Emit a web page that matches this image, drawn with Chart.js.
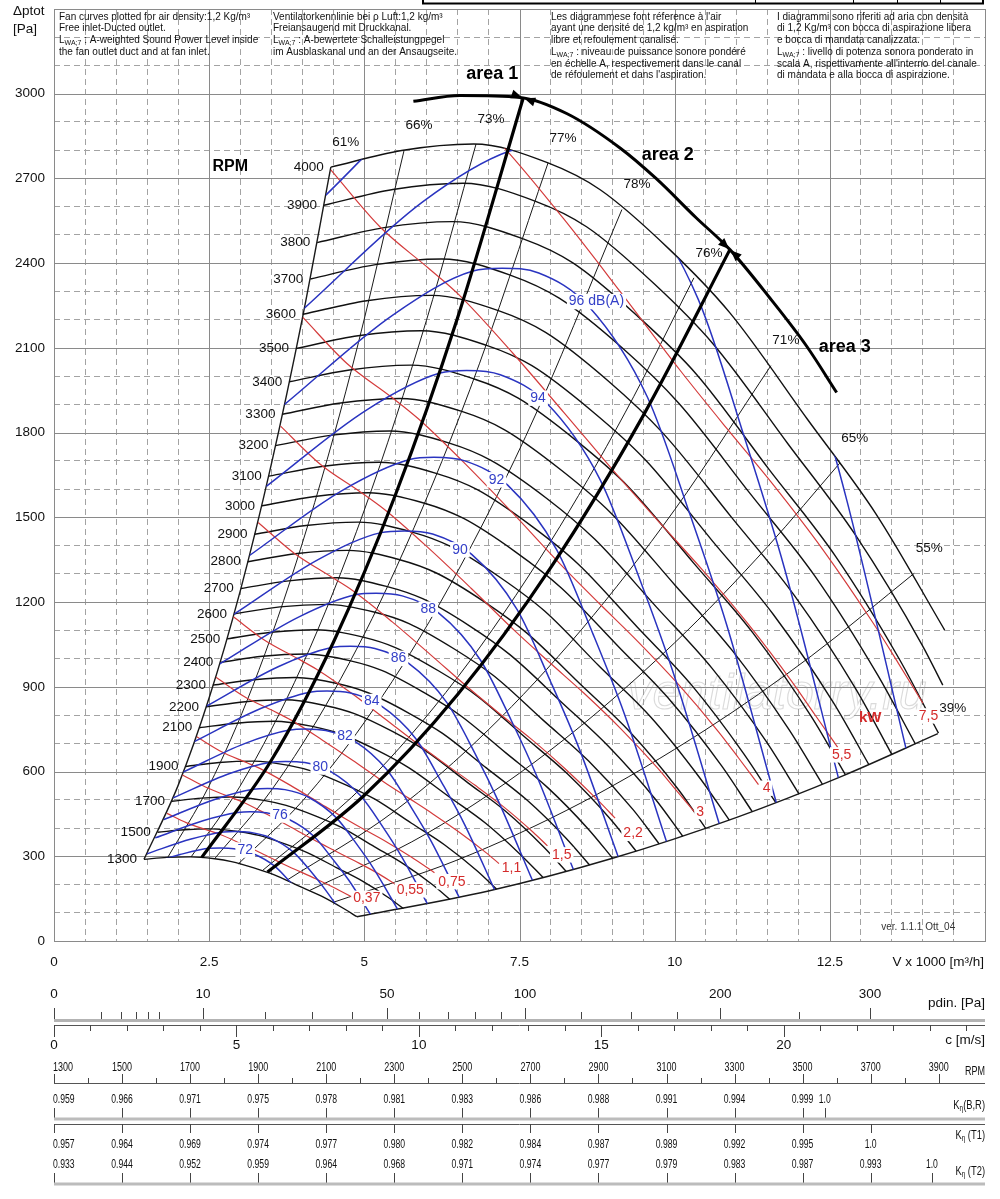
<!DOCTYPE html>
<html>
<head>
<meta charset="utf-8">
<title>Fan curves</title>
<script src="https://cdn.jsdelivr.net/npm/chart.js@4.4.1/dist/chart.umd.min.js"></script>
<style>
html,body{margin:0;padding:0;background:#fff;}
canvas{display:block;}
</style>
</head>
<body>
<canvas id="fan" width="1000" height="1199"></canvas>
<script>
const FONT = '"Liberation Sans", Arial, Helvetica, sans-serif';

// ---------- axis tick labels ----------
const xTickValues = [0, 2.5, 5, 7.5, 10, 12.5];
const xTickLabels = ['0', '2.5', '5', '7.5', '10', '12.5'];
const yTickValues = [0, 300, 600, 900, 1200, 1500, 1800, 2100, 2400, 2700, 3000];
const yTickLabels = ['0', '300', '600', '900', '1200', '1500', '1800', '2100', '2400', '2700', '3000'];

// ---------- fan curves, [V x1000 m3/h, dp tot Pa] ----------
const rpmList = [1300,1500,1700,1900,2100,2200,2300,2400,2500,2600,2700,2800,2900,3000,3100,3200,3300,3400,3500,3600,3700,3800,3900,4000];
const rpm1300 = [[1.45,289],[1.82,296],[2.20,298],[2.59,291],[2.86,281],[3.22,259],[3.54,235],[3.94,195],[4.31,159],[4.66,116],[4.88,86]];
const rpm1500 = [[1.67,385],[2.10,394],[2.54,397],[2.99,387],[3.30,374],[3.72,344],[4.08,313],[4.55,260],[4.97,212],[5.38,155],[5.63,115]];
const rpm1700 = [[1.90,495],[2.38,506],[2.87,510],[3.38,498],[3.74,480],[4.22,442],[4.63,402],[5.16,334],[5.63,273],[6.10,199],[6.38,147]];
const rpm1900 = [[2.12,618],[2.66,632],[3.21,637],[3.78,622],[4.18,600],[4.71,552],[5.17,502],[5.76,417],[6.29,341],[6.82,248],[7.13,184]];
const rpm2100 = [[2.34,755],[2.94,771],[3.55,778],[4.18,759],[4.62,733],[5.21,675],[5.72,613],[6.37,510],[6.96,416],[7.53,303],[7.88,225]];
const rpm2200 = [[2.45,829],[3.08,847],[3.72,854],[4.38,833],[4.84,805],[5.46,741],[5.99,673],[6.67,560],[7.29,457],[7.89,333],[8.25,247]];
const rpm2300 = [[2.56,906],[3.22,925],[3.89,933],[4.58,911],[5.06,879],[5.70,809],[6.26,735],[6.97,612],[7.62,499],[8.25,364],[8.63,269]];
const rpm2400 = [[2.68,986],[3.36,1008],[4.06,1016],[4.78,992],[5.28,958],[5.95,881],[6.53,801],[7.28,666],[7.95,544],[8.61,396],[9.00,293]];
const rpm2500 = [[2.79,1070],[3.50,1093],[4.23,1102],[4.98,1076],[5.50,1039],[6.20,956],[6.81,869],[7.58,723],[8.28,590],[8.97,430],[9.38,318]];
const rpm2600 = [[2.90,1158],[3.64,1183],[4.39,1192],[5.17,1164],[5.72,1124],[6.45,1034],[7.08,940],[7.88,782],[8.61,638],[9.33,465],[9.75,344]];
const rpm2700 = [[3.01,1248],[3.78,1275],[4.56,1286],[5.37,1255],[5.94,1212],[6.70,1115],[7.35,1013],[8.19,843],[8.94,688],[9.69,502],[10.13,371]];
const rpm2800 = [[3.12,1343],[3.92,1372],[4.73,1383],[5.57,1350],[6.16,1303],[6.94,1200],[7.62,1090],[8.49,907],[9.28,740],[10.05,539],[10.50,399]];
const rpm2900 = [[3.23,1440],[4.06,1471],[4.90,1483],[5.77,1448],[6.38,1398],[7.19,1287],[7.90,1169],[8.79,972],[9.61,794],[10.40,579],[10.88,428]];
const rpm3000 = [[3.35,1541],[4.20,1574],[5.07,1587],[5.97,1550],[6.60,1496],[7.44,1377],[8.17,1251],[9.10,1041],[9.94,849],[10.76,619],[11.25,458]];
const rpm3100 = [[3.46,1646],[4.34,1681],[5.24,1695],[6.17,1655],[6.82,1598],[7.69,1470],[8.44,1336],[9.40,1111],[10.27,907],[11.12,661],[11.63,490]];
const rpm3200 = [[3.57,1754],[4.48,1791],[5.41,1806],[6.37,1763],[7.04,1702],[7.94,1567],[8.71,1423],[9.70,1184],[10.60,966],[11.48,705],[12.00,522]];
const rpm3300 = [[3.68,1865],[4.62,1905],[5.58,1921],[6.57,1875],[7.26,1810],[8.18,1666],[8.98,1514],[10.01,1259],[10.93,1028],[11.84,749],[12.38,555]];
const rpm3400 = [[3.79,1980],[4.76,2022],[5.75,2039],[6.77,1990],[7.48,1922],[8.43,1769],[9.26,1607],[10.31,1337],[11.26,1091],[12.20,795],[12.75,589]];
const rpm3500 = [[3.90,2098],[4.90,2143],[5.92,2161],[6.97,2109],[7.70,2037],[8.68,1874],[9.53,1703],[10.61,1416],[11.59,1156],[12.56,843],[13.13,624]];
const rpm3600 = [[4.01,2219],[5.04,2267],[6.08,2286],[7.16,2232],[7.92,2155],[8.93,1983],[9.80,1801],[10.92,1499],[11.93,1223],[12.92,892],[13.50,660]];
const rpm3700 = [[4.13,2344],[5.18,2395],[6.25,2415],[7.36,2357],[8.14,2276],[9.18,2095],[10.07,1903],[11.22,1583],[12.26,1292],[13.27,942],[13.88,697]];
const rpm3800 = [[4.24,2473],[5.32,2526],[6.42,2547],[7.56,2486],[8.36,2401],[9.42,2209],[10.35,2007],[11.52,1670],[12.59,1363],[13.63,994],[14.25,736]];
const rpm3900 = [[4.35,2605],[5.46,2661],[6.59,2683],[7.76,2619],[8.58,2529],[9.67,2327],[10.62,2114],[11.83,1759],[12.92,1435],[13.99,1047],[14.32,906]];
const rpm4000 = [[4.46,2740],[5.60,2799],[6.76,2822],[7.96,2755],[8.80,2660],[9.92,2448],[10.89,2224],[12.13,1850],[13.25,1510],[14.35,1101]];
const rpmSeries = [rpm1300,rpm1500,rpm1700,rpm1900,rpm2100,rpm2200,rpm2300,rpm2400,rpm2500,rpm2600,rpm2700,rpm2800,rpm2900,rpm3000,rpm3100,rpm3200,rpm3300,rpm3400,rpm3500,rpm3600,rpm3700,rpm3800,rpm3900,rpm4000];

// ---------- sound power level iso-lines dB(A) ----------
const db72  = [[1.38,262],[2.03,306],[2.51,328],[2.68,329],[2.90,327],[3.20,310],[3.55,266],[3.81,208],[4.03,154],[4.33,67]];
const db74  = [[1.50,309],[2.21,361],[2.73,386],[2.91,388],[3.15,385],[3.48,366],[3.86,314],[4.14,246],[4.37,182],[4.70,79]];
const db76  = [[1.63,365],[2.40,426],[2.96,455],[3.16,458],[3.42,454],[3.78,431],[4.19,370],[4.49,290],[4.75,215],[5.10,94]];
const db78  = [[1.77,430],[2.60,502],[3.21,537],[3.44,540],[3.72,536],[4.10,509],[4.55,436],[4.88,342],[5.16,253],[5.54,111]];
const db80  = [[1.92,507],[2.83,593],[3.49,633],[3.73,636],[4.04,632],[4.46,600],[4.94,514],[5.30,403],[5.60,299],[6.02,130]];
const db82  = [[2.08,598],[3.07,699],[3.79,747],[4.05,751],[4.38,745],[4.84,708],[5.36,607],[5.75,475],[6.08,352],[6.53,154]];
const db84  = [[2.26,706],[3.34,824],[4.12,881],[4.40,885],[4.76,879],[5.26,834],[5.83,716],[6.25,560],[6.61,415],[7.10,181]];
const db86  = [[2.46,832],[3.62,972],[4.47,1039],[4.78,1044],[5.17,1036],[5.71,984],[6.33,844],[6.79,661],[7.17,490],[7.71,214]];
const db88  = [[2.67,981],[3.94,1147],[4.86,1226],[5.19,1231],[5.61,1222],[6.20,1161],[6.87,995],[7.37,780],[7.79,578],[8.37,252]];
const db90  = [[2.90,1157],[4.27,1352],[5.27,1446],[5.64,1452],[6.10,1441],[6.73,1369],[7.46,1174],[8.00,919],[8.46,682],[9.09,298]];
const db92  = [[3.15,1365],[4.64,1595],[5.73,1705],[6.12,1713],[6.62,1700],[7.31,1614],[8.10,1385],[8.69,1084],[9.19,804],[9.87,351]];
const db94  = [[3.42,1610],[5.04,1881],[6.22,2011],[6.65,2020],[7.19,2005],[7.94,1904],[8.80,1633],[9.44,1279],[9.98,948],[10.72,414]];
const db96  = [[3.71,1899],[5.47,2218],[6.75,2372],[7.22,2382],[7.81,2365],[8.62,2246],[9.56,1926],[10.25,1508],[10.84,1118],[11.64,488]];
const db98  = [[4.03,2240],[5.94,2617],[7.34,2797],[7.84,2810],[8.48,2789],[9.36,2648],[10.38,2272],[11.13,1779],[11.77,1319],[12.64,576]];
const db100 = [[4.38,2641],[6.46,3086],[7.97,3299],[8.52,3314],[9.21,3289],[10.17,3124],[11.27,2679],[12.09,2098],[12.78,1555],[13.73,679]];
const dbSeries = [db72,db74,db76,db78,db80,db82,db84,db86,db88,db90,db92,db94,db96,db98,db100];
const dbLabelText = ['72','76','80','82','84','86','88','90','92','94','96 dB(A)'];
const dbLabelAt = [[3.08,322],[3.64,446],[4.29,616],[4.69,724],[5.12,848],[5.55,1001],[6.03,1175],[6.54,1385],[7.13,1633],[7.80,1922],[8.74,2264]];

// ---------- absorbed power iso-lines kW ----------
const kw037 = [[1.82,452],[2.13,419],[2.45,394],[2.66,379],[3.01,345],[3.35,310],[3.70,272],[3.98,244],[4.25,217],[4.54,186],[4.84,151]];
const kw055 = [[2.07,588],[2.44,545],[2.80,513],[3.03,493],[3.43,449],[3.82,403],[4.22,354],[4.54,318],[4.85,283],[5.19,243],[5.53,197]];
const kw075 = [[2.30,723],[2.70,670],[3.11,631],[3.36,606],[3.81,551],[4.23,495],[4.68,435],[5.03,391],[5.38,348],[5.75,298],[6.13,242]];
const kw110 = [[2.61,934],[3.07,865],[3.53,815],[3.82,782],[4.32,712],[4.81,640],[5.32,562],[5.72,505],[6.11,449],[6.53,385],[6.96,313],[7.17,274]];
const kw150 = [[2.89,1148],[3.40,1064],[3.91,1002],[4.23,962],[4.80,876],[5.33,787],[5.90,691],[6.34,621],[6.78,552],[7.25,474],[7.72,385],[7.95,337]];
const kw220 = [[3.29,1482],[3.87,1373],[4.44,1293],[4.81,1241],[5.45,1130],[6.06,1015],[6.70,892],[7.20,801],[7.70,713],[8.23,611],[8.77,497],[9.04,435]];
const kw300 = [[3.65,1823],[4.29,1688],[4.93,1591],[5.33,1527],[6.04,1390],[6.72,1249],[7.43,1097],[7.99,985],[8.54,877],[9.13,752],[9.73,611],[10.02,535],[10.32,457]];
const kw400 = [[4.01,2208],[4.72,2045],[5.43,1927],[5.87,1849],[6.65,1684],[7.40,1513],[8.18,1329],[8.79,1194],[9.40,1062],[10.05,911],[10.71,740],[11.03,648],[11.35,554]];
const kw550 = [[4.46,2730],[5.25,2529],[6.03,2383],[6.53,2287],[7.39,2082],[8.22,1870],[9.10,1643],[9.78,1476],[10.45,1313],[11.17,1126],[11.90,915],[12.26,801],[12.63,685]];
const kw750 = [[4.95,3357],[5.82,3110],[6.69,2930],[7.24,2812],[8.20,2560],[9.12,2300],[10.09,2020],[10.84,1815],[11.59,1615],[12.39,1385],[13.20,1125],[13.60,985],[14.00,842]];
const kwSeries = [kw037,kw055,kw075,kw110,kw150,kw220,kw300,kw400,kw550,kw750];
const kwLabelText = ['0,37','0,55','0,75','1,1','1,5','2,2','3','4','5,5','7,5'];
const kwLabelAt = [[5.04,151],[5.74,181],[6.41,210],[7.37,258],[8.18,305],[9.33,381],[10.41,458],[11.48,541],[12.69,659],[14.09,797]];

// ---------- efficiency lines (system parabolas) ----------
const eff61 = [[1.45,289],[2.00,551],[2.50,861],[3.00,1239],[3.50,1687],[4.00,2203],[4.46,2740]];
const eff66 = [[1.83,295],[2.50,550],[3.20,901],[4.00,1408],[4.80,2028],[5.64,2799]];
const eff73 = [[2.21,298],[3.00,549],[4.00,976],[5.00,1526],[6.00,2197],[6.80,2822]];
const eff77 = [[2.59,292],[3.50,533],[4.50,881],[5.50,1315],[6.70,1952],[7.96,2755]];
const eff78 = [[2.97,273],[4.00,495],[5.00,774],[6.20,1189],[7.60,1787],[9.15,2590]];
const eff76 = [[3.35,248],[5.00,552],[6.50,933],[8.00,1414],[9.20,1870],[10.31,2348]];
const eff71 = [[3.75,215],[5.50,462],[7.00,748],[8.50,1103],[10.00,1527],[11.55,2037]];
const eff65 = [[4.11,178],[6.00,380],[8.00,676],[10.00,1056],[11.50,1397],[12.66,1692]];
const eff55 = [[4.50,137],[6.50,287],[8.50,490],[10.50,748],[12.20,1009],[13.86,1302]];
const eff39 = [[4.88,86],[7.00,177],[9.00,293],[11.00,438],[12.70,584],[14.24,734]];
const effSeries = [eff61,eff66,eff73,eff77,eff78,eff76,eff71,eff65,eff55,eff39];
const effLabels = ['61%','66%','73%','77%','78%','76%','71%','65%','55%','39%'];

// ---------- working areas ----------
const area1Line = [[2.38,296],[3.50,639],[4.50,1057],[5.50,1579],[6.50,2205],[7.56,2985]];
const area2Line = [[3.44,244],[5.00,516],[6.50,872],[8.00,1321],[9.50,1863],[10.89,2448]];
const areaArc = [[5.79,2973],[6.54,2994],[7.51,2987],[8.26,2930],[9.12,2808],[9.70,2700],[10.35,2560],[10.89,2448],[11.54,2275],[12.13,2105],[12.61,1942]];
const areaArrowAt = [[7.56,2985],[10.89,2448]];
const areaLabelText = ['area 1','area 2','area 3'];
const areaLabelAt = [[7.06,3071],[9.89,2784],[12.74,2104]];

// ---------- auxiliary scales under the chart ----------
const airDensity = 1.2;       // kg/m3
const outletAreaM2 = 0.1633;  // outlet section for c [m/s]
const pdinMajor = [0,10,50,100,200,300];
const pdinMinor = [1,2,3,4,5,20,30,40,60,70,80,90,125,150,175,250];
const cMajor = [0,5,10,15,20];
const cMinor = [1,2,3,4,6,7,8,9,11,12,13,14,16,17,18,19,21,22,23,24,25];
const rpmScaleMajor = [1300,1500,1700,1900,2100,2300,2500,2700,2900,3100,3300,3500,3700,3900];
const rpmScaleMinor = [1400,1600,1800,2000,2200,2400,2600,2800,3000,3200,3400,3600,3800];
const kBRAt = [1300,1500,1700,1900,2100,2300,2500,2700,2900,3100,3300,3500,3565];
const kBR = ['0.959','0.966','0.971','0.975','0.978','0.981','0.983','0.986','0.988','0.991','0.994','0.999','1.0'];
const kT1At = [1300,1500,1700,1900,2100,2300,2500,2700,2900,3100,3300,3500,3700];
const kT1 = ['0.957','0.964','0.969','0.974','0.977','0.980','0.982','0.984','0.987','0.989','0.992','0.995','1.0'];
const kT2At = [1300,1500,1700,1900,2100,2300,2500,2700,2900,3100,3300,3500,3700,3880];
const kT2 = ['0.933','0.944','0.952','0.959','0.964','0.968','0.971','0.974','0.977','0.979','0.983','0.987','0.993','1.0'];

// ---------- header notes ----------
const noteEN = ['Fan curves plotted for air density:1,2 Kg/m\u00b3','Free inlet-Ducted outlet.','L_{WA;7} : A-weighted Sound Power Level inside','the fan outlet duct and at fan inlet.'];
const noteDE = ['Ventilatorkennlinie bei \u03c1 Luft:1,2 kg/m\u00b3','Freiansaugend mit Druckkanal.','L_{WA;7} : A-bewertete Schalleistungpegel','im Ausblaskanal und an der Ansaugseite.'];
const noteFR = ["Les diagrammese font r\u00e9ference \u00e0 l'air",'ayant une densit\u00e9 de 1,2 kg/m\u00b3 en aspiration','libre et refoulement canalis\u00e9.','L_{WA;7} : niveau de puissance sonore pond\u00e9r\u00e9','en \u00e9chelle A, respectivement dans le canal',"de r\u00e9foulement et dans l'aspiration."];
const noteIT = ['I diagrammi sono riferiti ad aria con densit\u00e0','di 1,2 Kg/m\u00b3 con bocca di aspirazione libera','e bocca di mandata canalizzata.','L_{WA;7} : livello di potenza sonora ponderato in',"scala A, rispettivamente all'interno del canale",'di mandata e alla bocca di aspirazione.'];

// =====================================================================
const BLUE = '#2a34c0', RED = '#d43c3c', BLACK = '#111';
const NARROW = 0.72;
const datasets = [];
function addSeries(id, arr, color, width, order, extra) {
  datasets.push(Object.assign({
    id: id, data: arr.map(p => ({x: p[0], y: p[1]})), showLine: true, fill: false,
    borderColor: color, borderWidth: width, pointRadius: 0, pointHoverRadius: 0, pointHitRadius: 0,
    cubicInterpolationMode: 'monotone', order: order
  }, extra || {}));
}
addSeries('area1', area1Line, '#000', 3.2, 0);
addSeries('area2', area2Line, '#000', 3.2, 0);
addSeries('arc', areaArc, '#000', 3, 0);
dbSeries.forEach((s, i) => addSeries('db' + i, s, BLUE, 1.5, 1, {regionClip: true}));
kwSeries.forEach((s, i) => addSeries('kw' + i, s, RED, 1.2, 2, {regionClip: true}));
rpmSeries.forEach((s, i) => addSeries('rpm' + rpmList[i], s, BLACK, 1.4, 3));
effSeries.forEach((s, i) => addSeries('eff' + effLabels[i], s, '#1a1a1a', (i === 0 || i === effSeries.length - 1) ? 1.4 : 1, 4));

function drawRich(ctx, text, x, y, size, align, narrow, weight, style) {
  const parts = String(text).split(/(_\{[^}]*\})/).filter(s => s.length);
  const segs = parts.map(p => p.indexOf('_{') === 0 ? {t: p.slice(2, -1), sub: true} : {t: p, sub: false});
  const fontFor = s => (style ? style + ' ' : '') + (weight ? weight + ' ' : '') + (s.sub ? Math.round(size * 0.72) : size) + 'px ' + FONT;
  let w = 0;
  segs.forEach(s => { ctx.font = fontFor(s); s.w = ctx.measureText(s.t).width; w += s.w; });
  const k = narrow ? NARROW : 1;
  ctx.save();
  ctx.translate(x, y);
  ctx.scale(k, 1);
  let cx = align === 'right' ? -w : (align === 'center' ? -w / 2 : 0);
  ctx.textAlign = 'left';
  ctx.textBaseline = 'middle';
  segs.forEach(s => { ctx.font = fontFor(s); ctx.fillText(s.t, cx, s.sub ? size * 0.3 : 0); cx += s.w; });
  ctx.restore();
  return w * k;
}
function boxLabel(ctx, text, x, y, size, color, weight) {
  ctx.font = (weight ? weight + ' ' : '') + size + 'px ' + FONT;
  const w = ctx.measureText(text).width;
  ctx.fillStyle = '#fff';
  ctx.fillRect(x - w / 2 - 2, y - size * 0.55, w + 4, size * 1.1);
  ctx.fillStyle = color;
  drawRich(ctx, text, x, y, size, 'center', false, weight);
}
function metaById(chart, id) {
  const i = chart.data.datasets.findIndex(d => d.id === id);
  return chart.getDatasetMeta(i);
}
function prepared(chart, meta) {
  try { meta.dataset.updateControlPoints(chart.chartArea, 'x'); } catch (e) {}
  return meta.data;
}
function trace(ctx, pts, reverse, first) {
  const p = reverse ? pts.slice().reverse() : pts;
  if (first) ctx.moveTo(p[0].x, p[0].y); else ctx.lineTo(p[0].x, p[0].y);
  for (let i = 1; i < p.length; i++) {
    const a = p[i - 1], b = p[i];
    const c1x = reverse ? a.cp1x : a.cp2x, c1y = reverse ? a.cp1y : a.cp2y;
    const c2x = reverse ? b.cp2x : b.cp1x, c2y = reverse ? b.cp2y : b.cp1y;
    if ([c1x, c1y, c2x, c2y].every(v => typeof v === 'number' && isFinite(v))) ctx.bezierCurveTo(c1x, c1y, c2x, c2y, b.x, b.y);
    else ctx.lineTo(b.x, b.y);
  }
}
function regionPath(chart) {
  const ctx = chart.ctx;
  const top = prepared(chart, metaById(chart, 'rpm4000'));
  const low = prepared(chart, metaById(chart, 'rpm1300'));
  const left = prepared(chart, metaById(chart, 'eff61%'));
  const bottom = prepared(chart, metaById(chart, 'eff39%'));
  ctx.beginPath();
  trace(ctx, top, false, true);
  trace(ctx, bottom, true, false);
  trace(ctx, low, true, false);
  trace(ctx, left, false, false);
  ctx.closePath();
}

const fanPlugin = {
  id: 'fanPlugin',
  beforeDraw(chart) {
    const ctx = chart.ctx;
    ctx.save(); ctx.fillStyle = '#fff'; ctx.fillRect(0, 0, chart.width, chart.height); ctx.restore();
  },
  beforeDatasetsDraw(chart) {
    const ctx = chart.ctx, a = chart.chartArea, xs = chart.scales.x, ys = chart.scales.y;
    ctx.save();
    ctx.strokeStyle = '#8a8a8a'; ctx.lineWidth = 1;
    xTickValues.concat([15]).forEach(v => {
      const p = Math.round(xs.getPixelForValue(v)) + 0.5;
      ctx.beginPath(); ctx.moveTo(p, a.top); ctx.lineTo(p, a.bottom); ctx.stroke();
    });
    yTickValues.concat([3300]).forEach(v => {
      const p = Math.round(ys.getPixelForValue(v)) + 0.5;
      ctx.beginPath(); ctx.moveTo(a.left, p); ctx.lineTo(a.right, p); ctx.stroke();
    });
    ctx.strokeRect(Math.round(a.left) + 0.5, Math.round(a.top) + 0.5, Math.round(a.right - a.left), Math.round(a.bottom - a.top));
    // header notes
    ctx.fillStyle = '#111';
    const cols = [[noteEN, 59], [noteDE, 273], [noteFR, 551], [noteIT, 777]];
    cols.forEach(([lines, x]) => lines.forEach((t, i) => drawRich(ctx, t, x, 17 + i * 11.7, 10, 'left')));
    // watermark
    ctx.font = 'italic 50px ' + FONT;
    ctx.textAlign = 'center'; ctx.textBaseline = 'middle';
    ctx.strokeStyle = 'rgba(150,150,150,0.35)'; ctx.lineWidth = 1.1;
    ctx.strokeText('ventilatorry.ru', xs.getPixelForValue(11.65), ys.getPixelForValue(871));
    ctx.restore();
  },
  beforeDatasetDraw(chart, args) {
    const ds = chart.data.datasets[args.index];
    if (ds && ds.regionClip) { chart.ctx.save(); regionPath(chart); chart.ctx.clip(); }
  },
  afterDatasetDraw(chart, args) {
    const ds = chart.data.datasets[args.index];
    if (ds && ds.regionClip) chart.ctx.restore();
  },
  afterDatasetsDraw(chart) {
    const ctx = chart.ctx, xs = chart.scales.x, ys = chart.scales.y;
    const P = (v, p) => [xs.getPixelForValue(v), ys.getPixelForValue(p)];
    ctx.save();
    // arrows on the area arc
    const arcPts = metaById(chart, 'arc').data;
    areaArrowAt.forEach(([v, p]) => {
      const [x, y] = P(v, p);
      let i = 0;
      while (i < arcPts.length - 2 && arcPts[i + 1].x < x) i++;
      const dx = arcPts[i + 1].x - arcPts[i].x, dy = arcPts[i + 1].y - arcPts[i].y;
      const L = Math.hypot(dx, dy) || 1, ux = dx / L, uy = dy / L, nx = -uy, ny = ux;
      ctx.fillStyle = '#000';
      [1, -1].forEach(s => {
        const tx = x - s * ux * 1, ty = y - s * uy * 1;
        const bx = x - s * ux * 12, by = y - s * uy * 12;
        ctx.beginPath(); ctx.moveTo(tx, ty); ctx.lineTo(bx + nx * 4.5, by + ny * 4.5); ctx.lineTo(bx - nx * 4.5, by - ny * 4.5); ctx.closePath(); ctx.fill();
      });
    });
    // rpm labels
    ctx.fillStyle = '#111';
    rpmSeries.forEach((s, i) => {
      const [x, y] = P(s[0][0], s[0][1]);
      drawRich(ctx, String(rpmList[i]), x - 7, y, 13.5, 'right');
    });
    // efficiency labels
    effSeries.forEach((s, i) => {
      const e = s[s.length - 1];
      const [x, y] = P(e[0], e[1]);
      drawRich(ctx, effLabels[i], x + 15, y - 25, 13.5, 'center');
    });
    // dB labels
    dbLabelText.forEach((t, i) => { const [x, y] = P(dbLabelAt[i][0], dbLabelAt[i][1]); boxLabel(ctx, t, x, y, 14, '#3440c8'); });
    // kW labels
    kwLabelText.forEach((t, i) => { const [x, y] = P(kwLabelAt[i][0], kwLabelAt[i][1]); boxLabel(ctx, t, x, y, 14, '#d42b2b'); });
    ctx.fillStyle = '#d42b2b';
    { const [x, y] = P(13.15, 789); drawRich(ctx, 'kW', x, y, 15, 'center', false, 'bold'); }
    // area + RPM titles
    ctx.fillStyle = '#000';
    areaLabelText.forEach((t, i) => { const [x, y] = P(areaLabelAt[i][0], areaLabelAt[i][1]); drawRich(ctx, t, x, y, 18, 'center', false, 'bold'); });
    { const [x, y] = P(2.84, 2742); drawRich(ctx, 'RPM', x, y, 16, 'center', false, 'bold'); }
    ctx.fillStyle = '#333';
    { const [x, y] = P(14.52, 50); drawRich(ctx, 'ver. 1.1.1 Ott_04', x, y, 10, 'right'); }
    ctx.restore();
  },
  afterDraw(chart) {
    const ctx = chart.ctx, a = chart.chartArea, cs = chart.scales.cAxis, rs = chart.scales.rpmAxis;
    const L = a.left, R = a.right;
    const hline = (y, w, col) => { ctx.strokeStyle = col; ctx.lineWidth = w; ctx.beginPath(); ctx.moveTo(L, y); ctx.lineTo(R, y); ctx.stroke(); };
    const vt = (x, y1, y2) => { const px = Math.round(x) + 0.5; ctx.strokeStyle = '#444'; ctx.lineWidth = 1; ctx.beginPath(); ctx.moveTo(px, y1); ctx.lineTo(px, y2); ctx.stroke(); };
    const cOfPd = pd => Math.sqrt(2 * pd / airDensity);
    const NS = 12;
    ctx.save();
    ctx.fillStyle = '#111';
    // axis titles
    drawRich(ctx, '\u0394ptot', 13, 11, 13.5, 'left');
    drawRich(ctx, '[Pa]', 13, 29, 13.5, 'left');
    drawRich(ctx, 'V x 1000 [m\u00b3/h]', 984, 962, 13.5, 'right');
    // top decoration
    ctx.strokeStyle = '#000'; ctx.lineWidth = 2;
    ctx.beginPath(); ctx.moveTo(423, 0); ctx.lineTo(423, 3.5); ctx.lineTo(983, 3.5); ctx.lineTo(983, 0); ctx.stroke();
    ctx.lineWidth = 1;
    [755, 853, 897, 940].forEach(x => { ctx.beginPath(); ctx.moveTo(x + 0.5, 0); ctx.lineTo(x + 0.5, 3); ctx.stroke(); });
    // dynamic pressure
    pdinMajor.forEach(v => { const x = cs.getPixelForValue(cOfPd(v)); vt(x, 1008, 1020); drawRich(ctx, String(v), x, 994, 13.5, 'center'); });
    pdinMinor.forEach(v => vt(cs.getPixelForValue(cOfPd(v)), 1012, 1020));
    hline(1020.5, 3, '#b3b3b3');
    drawRich(ctx, 'pdin. [Pa]', R, 1003, 13.5, 'right');
    // outlet velocity
    hline(1025.5, 1, '#555');
    cMajor.forEach(v => { const x = cs.getPixelForValue(v); vt(x, 1025, 1037); drawRich(ctx, String(v), x, 1045, 13.5, 'center'); });
    cMinor.forEach(v => vt(cs.getPixelForValue(v), 1025, 1031));
    drawRich(ctx, 'c [m/s]', R, 1040, 13.5, 'right');
    // RPM scale
    rpmScaleMajor.forEach((v, i) => { const x = rs.getPixelForValue(v); vt(x, 1074, 1083); drawRich(ctx, String(v), i === 0 ? x - 1 : x, 1068, 12.5, i === 0 ? 'left' : 'center', true); });
    rpmScaleMinor.forEach(v => vt(rs.getPixelForValue(v), 1078, 1083));
    hline(1083.5, 1, '#555');
    drawRich(ctx, 'RPM', R, 1072, 12.5, 'right', true);
    // K eta (B,R)
    kBR.forEach((t, i) => { const x = rs.getPixelForValue(kBRAt[i]); vt(x, 1108, 1118); drawRich(ctx, t, i === 0 ? x - 1 : x, 1100, NS, i === 0 ? 'left' : 'center', true); });
    hline(1119, 3, '#bcbcbc');
    drawRich(ctx, 'K_{\u03b7}(B,R)', R, 1105, 13, 'right', true);
    // K eta (T1)
    hline(1124.5, 1, '#555');
    kT1.forEach((t, i) => { const x = rs.getPixelForValue(kT1At[i]); vt(x, 1124, 1133); drawRich(ctx, t, i === 0 ? x - 1 : x, 1145, NS, i === 0 ? 'left' : 'center', true); });
    drawRich(ctx, 'K_{\u03b7} (T1)', R, 1135, 13, 'right', true);
    // K eta (T2)
    kT2.forEach((t, i) => { const x = rs.getPixelForValue(kT2At[i]); vt(x, 1173, 1183); drawRich(ctx, t, i === 0 ? x - 1 : x, 1165, NS, i === 0 ? 'left' : 'center', true); });
    hline(1184, 3, '#bcbcbc');
    drawRich(ctx, 'K_{\u03b7} (T2)', R, 1171, 13, 'right', true);
    ctx.restore();
  }
};

const near = (v, arr) => arr.findIndex(t => Math.abs(t - v) < 1e-6);

new Chart(document.getElementById('fan'), {
  type: 'scatter',
  data: {datasets: datasets},
  plugins: [fanPlugin],
  options: {
    responsive: false,
    animation: false,
    events: [],
    layout: {padding: {left: 10, right: 15, top: 9, bottom: 228}},
    plugins: {legend: {display: false}, tooltip: {enabled: false}},
    scales: {
      x: {
        type: 'linear', position: 'bottom', min: 0, max: 15,
        afterFit: s => { s.height = 30; s.paddingLeft = 0; s.paddingRight = 0; },
        ticks: {
          stepSize: 0.5, autoSkip: false, maxRotation: 0, minRotation: 0, maxTicksLimit: 100, padding: 13,
          color: '#111', font: {family: FONT, size: 13.5},
          callback: v => { const i = near(v, xTickValues); return i >= 0 ? xTickLabels[i] : ''; }
        },
        grid: {drawTicks: false, lineWidth: 1, color: c => (c.tick && near(c.tick.value, xTickValues.concat([15])) >= 0) ? 'rgba(0,0,0,0)' : '#a3a3a3'},
        border: {display: false, dash: [6, 4]}
      },
      y: {
        type: 'linear', position: 'left', min: 0, max: 3300,
        afterFit: s => { s.width = 44; s.paddingTop = 0; s.paddingBottom = 0; },
        ticks: {
          stepSize: 100, autoSkip: false, maxTicksLimit: 100, padding: 9,
          color: '#111', font: {family: FONT, size: 13.5},
          callback: v => { const i = near(v, yTickValues); return i >= 0 ? yTickLabels[i] : ''; }
        },
        grid: {drawTicks: false, lineWidth: 1, color: c => (c.tick && near(c.tick.value, yTickValues.concat([3300])) >= 0) ? 'rgba(0,0,0,0)' : '#a3a3a3'},
        border: {display: false, dash: [6, 4]}
      },
      cAxis: {type: 'linear', axis: 'x', position: 'bottom', display: false, min: 0, max: 15 / (outletAreaM2 * 3.6)},
      rpmAxis: {type: 'linear', axis: 'x', position: 'bottom', display: false, min: 1300, max: 4036}
    }
  }
});
</script>
</body>
</html>
